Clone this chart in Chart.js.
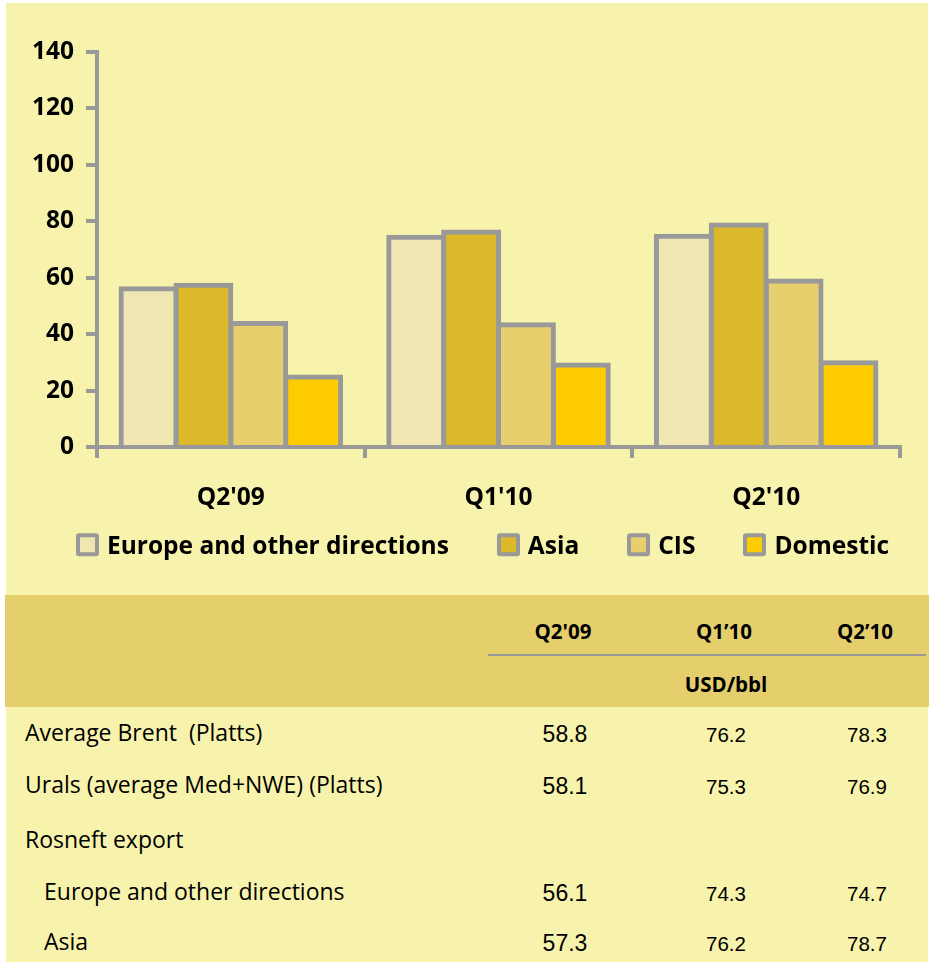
<!DOCTYPE html>
<html>
<head>
<meta charset="utf-8">
<script src="https://cdn.jsdelivr.net/npm/chart.js@4.4.1/dist/chart.umd.min.js"></script>
<style>
  html, body { margin: 0; padding: 0; background: #fff; }
  body { width: 929px; height: 962px; position: relative; overflow: hidden; font-family: "Open Sans", sans-serif; }
  .pale { position: absolute; left: 6px; top: 3px; width: 922px; height: 959px; background: #f7f3ac; }
  .band { position: absolute; left: 5px; top: 595px; width: 924px; height: 112px; background: #e5cf6c; }
  .rule { position: absolute; left: 488px; top: 654px; width: 438px; height: 2px; background: #999; }
  #chartBox { position: absolute; left: 0; top: 0; width: 929px; height: 590px; }
  #legend { position: absolute; left: 76px; top: 545px; display: flex; align-items: center; transform: translateY(-50%);
            font-weight: 700; font-size: 24.5px; line-height: 1.2; white-space: nowrap; }
  #legend .item { display: flex; align-items: center; margin-right: 48px; }
  #legend .box { width: 23px; height: 23px; box-sizing: border-box; border: 4px solid #999; border-radius: 3px; margin-right: 8px; }
  .t { position: absolute; white-space: pre; line-height: 1.2; color: #000; }
  .c { transform: translate(-50%, -50%); }
  .l { transform: translateY(-50%); }
  .hd { font-weight: 700; font-size: 20.5px; }
  .lbl { font-size: 23px; }
  .num { font-family: "Liberation Sans", Arial, sans-serif; font-size: 20.5px; }
  .num.big { font-size: 23px; }
</style>
</head>
<body>
<div class="pale"></div>
<div class="band"></div>
<div class="rule"></div>
<div id="chartBox"><canvas id="chart" width="929" height="590"></canvas></div>
<div id="legend"></div>
<div id="table"></div>
<script>
// chart data
const quarters = ["Q2'09", "Q1'10", "Q2'10"];
const europe = [56.1, 74.3, 74.7];
const asia = [57.3, 76.2, 78.7];
const cis = [43.8, 43.3, 58.8];
const domestic = [24.8, 29.1, 29.9];
const seriesNames = ['Europe and other directions', 'Asia', 'CIS', 'Domestic'];
const seriesColors = ['#f0e6b1', '#dbb92a', '#e6cf6c', '#ffcc00'];
const yTicks = [0, 20, 40, 60, 80, 100, 120, 140];

// table data
const tableHeads = ["Q2'09", 'Q1’10', 'Q2’10'];
const tableUnit = 'USD/bbl';
const rowLabels = ['Average Brent  (Platts)', 'Urals (average Med+NWE) (Platts)', 'Rosneft export', 'Europe and other directions', 'Asia'];
const brent = [58.8, 76.2, 78.3];
const urals = [58.1, 75.3, 76.9];
const exportEurope = [56.1, 74.3, 74.7];
const exportAsia = [57.3, 76.2, 78.7];

const GRAY = '#999999';

/** Build the price table under the chart */
function buildTable() {
  const box = document.getElementById('table');
  const colX = [565, 726, 867];
  const rowY = [733, 785, 840, 892, 942];
  const rows = [brent, urals, null, exportEurope, exportAsia];
  const add = (cls, text, x, y) => {
    const d = document.createElement('div');
    d.className = 't ' + cls;
    d.textContent = text;
    d.style.left = x + 'px';
    d.style.top = y + 'px';
    box.appendChild(d);
  };
  tableHeads.forEach((h, i) => add('hd c', h, colX[i] - 2, 631));
  add('hd c', tableUnit, 726, 684);
  rowLabels.forEach((lab, r) => {
    add('lbl l', lab, r >= 3 ? 44 : 25, rowY[r]);
    if (!rows[r]) return;
    rows[r].forEach((v, i) => add('num c' + (i === 0 ? ' big' : ''), v.toFixed(1), colX[i], rowY[r] + 2));
  });
}

/** HTML legend built from the chart's datasets */
function buildLegend(chart) {
  const box = document.getElementById('legend');
  chart.data.datasets.forEach(ds => {
    const item = document.createElement('div');
    item.className = 'item';
    const sw = document.createElement('span');
    sw.className = 'box';
    sw.style.background = ds.backgroundColor;
    const txt = document.createElement('span');
    txt.textContent = ds.label;
    item.append(sw, txt);
    box.appendChild(item);
  });
}

function drawChart() {
  const tickFont = { family: 'Open Sans', weight: 'bold', size: 24.5 };
  const chart = new Chart(document.getElementById('chart'), {
    type: 'bar',
    data: {
      labels: quarters,
      datasets: [europe, asia, cis, domestic].map((d, i) => ({
        label: seriesNames[i],
        data: d,
        backgroundColor: seriesColors[i],
        borderColor: GRAY,
        borderWidth: 5,
        inflateAmount: 2.5,
        borderSkipped: 'start',
        categoryPercentage: 0.82,
        barPercentage: 1,
      })),
    },
    options: {
      responsive: false,
      devicePixelRatio: 1,
      animation: false,
      layout: { padding: { left: 0, right: 0, top: 52, bottom: 63 } },
      plugins: {
        tooltip: { enabled: false },
        legend: { display: false },
      },
      scales: {
        x: {
          grid: { offset: true, drawOnChartArea: false, tickLength: 11, color: GRAY, lineWidth: 4 },
          border: { color: GRAY, width: 4 },
          ticks: { color: '#000', font: tickFont, padding: 25 },
          afterFit(s) { s.height = 80; },
        },
        y: {
          min: 0,
          max: 140,
          afterBuildTicks(s) { s.ticks = yTicks.map(v => ({ value: v })); },
          grid: { drawOnChartArea: false, tickLength: 11, color: GRAY, lineWidth: 4 },
          border: { color: GRAY, width: 4 },
          ticks: { color: '#000', font: tickFont, padding: 12 },
          afterFit(s) { s.width = 97; },
        },
        // empty right axis, only keeps the plot edge at x=900
        y2: {
          position: 'right',
          grid: { display: false },
          border: { display: false },
          ticks: { display: false },
          afterFit(s) { s.width = 29; },
        },
      },
    },
  });
  buildLegend(chart);
}

buildTable();
Promise.all([
  document.fonts.load('bold 24px "Open Sans"'),
  document.fonts.load('22px "Open Sans"'),
]).then(drawChart, drawChart);
</script>
</body>
</html>
